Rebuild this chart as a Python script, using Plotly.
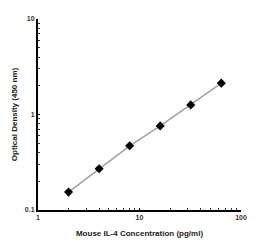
import plotly.graph_objects as go

conc = [2, 4, 8, 16, 32, 64]
od = [0.154, 0.27, 0.47, 0.76, 1.26, 2.13]
x_ticks = [1, 10, 100]
x_tick_text = ["1", "10", "100"]
y_ticks = [0.1, 1, 10]
y_tick_text = ["0.1", "1", "10"]

fig = go.Figure()
fig.add_trace(go.Scatter(
    x=conc, y=od, mode="lines+markers",
    line=dict(color="#a0a0a0", width=1.5),
    marker=dict(symbol="diamond", size=7, color="black"),
    showlegend=False,
))

tfont = dict(family="Liberation Sans, Arial", size=7, color="#333", weight="bold")
fig.update_xaxes(
    type="log", range=[0, 2],
    tickvals=x_ticks, ticktext=x_tick_text,
    ticks="inside", ticklen=2, tickcolor="black",
    minor=dict(ticks="inside", ticklen=2, tickcolor="#333", dtick="D1"),
    showline=True, linecolor="black", linewidth=2,
    showgrid=False, zeroline=False,
    tickfont=tfont,
    title=dict(text="<b>Mouse IL-4 Concentration (pg/ml)</b>",
               font=dict(family="Liberation Sans, Arial", size=8, color="#222"), standoff=10),
)
fig.update_yaxes(
    type="log", range=[-1, 1],
    tickvals=y_ticks, ticktext=y_tick_text,
    ticks="inside", ticklen=2, tickcolor="black",
    minor=dict(ticks="inside", ticklen=2, tickcolor="#333", dtick="D1"),
    showline=True, linecolor="black", linewidth=2,
    showgrid=False, zeroline=False,
    tickfont=tfont,
    title=dict(text="<b>Optical Density (450 nm)</b>",
               font=dict(family="Liberation Sans, Arial", size=8, color="#222"), standoff=6),
)
fig.update_layout(
    width=259, height=252,
    margin=dict(l=38, r=15, t=19, b=42),
    plot_bgcolor="white", paper_bgcolor="white",
)
fig.write_html("out.html")
